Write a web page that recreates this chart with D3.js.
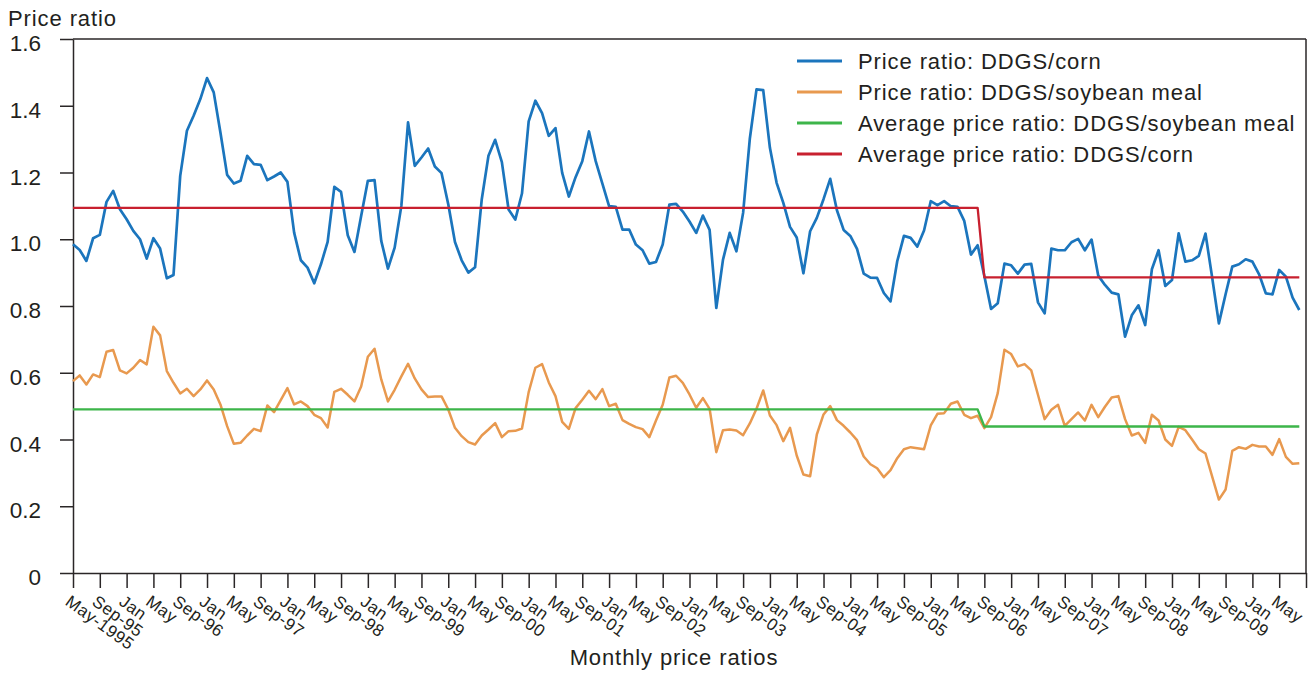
<!DOCTYPE html>
<html>
<head>
<meta charset="utf-8">
<script src="https://cdn.jsdelivr.net/npm/d3@7"></script>
<style>
  body { margin: 0; background: #fff; }
  text { font-family: "Liberation Sans", Arial, Helvetica, sans-serif; fill: #231f20; }
</style>
</head>
<body>
<div id="myChart"></div>
<script>
// monthly ratios, May-1995 .. Aug-2010 (one value per month)
const ddgsCorn = [
  0.985, 0.968, 0.935, 1.003, 1.013, 1.112, 1.145, 1.090, 1.060, 1.025,
  1.000, 0.942, 1.003, 0.972, 0.883, 0.893, 1.190, 1.325, 1.370, 1.420,
  1.483, 1.440, 1.320, 1.193, 1.167, 1.175, 1.250, 1.225, 1.223, 1.177,
  1.188, 1.200, 1.172, 1.020, 0.937, 0.915, 0.868, 0.925, 0.992, 1.157,
  1.142, 1.012, 0.962, 1.070, 1.175, 1.177, 0.995, 0.912, 0.975, 1.100,
  1.350, 1.220, 1.245, 1.272, 1.218, 1.198, 1.105, 0.992, 0.937, 0.900,
  0.916, 1.120, 1.250, 1.298, 1.231, 1.089, 1.059, 1.137, 1.353, 1.415,
  1.378, 1.310, 1.333, 1.199, 1.128, 1.186, 1.234, 1.323, 1.234, 1.167,
  1.099, 1.097, 1.029, 1.029, 0.984, 0.967, 0.927, 0.932, 0.984, 1.104,
  1.106, 1.083, 1.053, 1.019, 1.071, 1.028, 0.794, 0.939, 1.019, 0.964,
  1.079, 1.301, 1.449, 1.447, 1.274, 1.169, 1.109, 1.037, 1.005, 0.898,
  1.024, 1.064, 1.120, 1.181, 1.087, 1.028, 1.010, 0.971, 0.897, 0.885,
  0.884, 0.839, 0.814, 0.934, 1.010, 1.004, 0.978, 1.026, 1.114, 1.102,
  1.114, 1.099, 1.097, 1.055, 0.954, 0.982, 0.890, 0.791, 0.808, 0.927,
  0.922, 0.897, 0.924, 0.926, 0.811, 0.778, 0.972, 0.967, 0.967, 0.991,
  1.001, 0.967, 0.999, 0.891, 0.863, 0.840, 0.835, 0.708, 0.772, 0.802,
  0.743, 0.910, 0.967, 0.860, 0.878, 1.018, 0.933, 0.937, 0.950, 1.017,
  0.885, 0.748, 0.835, 0.918, 0.925, 0.940, 0.933, 0.895, 0.838, 0.835,
  0.908, 0.888, 0.825, 0.788
];

const ddgsSoy = [
  0.575, 0.592, 0.565, 0.595, 0.587, 0.663, 0.668, 0.607, 0.598, 0.615,
  0.638, 0.625, 0.738, 0.712, 0.605, 0.570, 0.538, 0.552, 0.530, 0.550,
  0.577, 0.550, 0.505, 0.440, 0.387, 0.390, 0.412, 0.432, 0.425, 0.502,
  0.482, 0.518, 0.554, 0.505, 0.514, 0.500, 0.474, 0.464, 0.436, 0.543,
  0.552, 0.534, 0.514, 0.559, 0.648, 0.672, 0.580, 0.514, 0.549, 0.589,
  0.627, 0.583, 0.550, 0.527, 0.529, 0.529, 0.490, 0.435, 0.410, 0.392,
  0.385, 0.412, 0.430, 0.449, 0.407, 0.425, 0.426, 0.433, 0.542, 0.615,
  0.626, 0.571, 0.530, 0.453, 0.432, 0.494, 0.519, 0.546, 0.521, 0.551,
  0.500, 0.507, 0.458, 0.447, 0.437, 0.431, 0.407, 0.457, 0.504, 0.586,
  0.591, 0.570, 0.535, 0.495, 0.524, 0.492, 0.362, 0.428, 0.430, 0.427,
  0.413, 0.448, 0.492, 0.547, 0.472, 0.443, 0.395, 0.435, 0.352, 0.295,
  0.290, 0.415, 0.475, 0.500, 0.458, 0.441, 0.421, 0.398, 0.349, 0.326,
  0.314, 0.287, 0.308, 0.344, 0.371, 0.377, 0.374, 0.371, 0.442, 0.477,
  0.479, 0.507, 0.514, 0.474, 0.464, 0.471, 0.434, 0.467, 0.539, 0.669,
  0.656, 0.619, 0.626, 0.607, 0.534, 0.461, 0.489, 0.504, 0.441, 0.461,
  0.481, 0.457, 0.504, 0.467, 0.498, 0.526, 0.530, 0.461, 0.412, 0.420,
  0.390, 0.474, 0.457, 0.400, 0.381, 0.438, 0.428, 0.400, 0.371, 0.358,
  0.289, 0.220, 0.250, 0.366, 0.377, 0.372, 0.384, 0.379, 0.379, 0.354,
  0.401, 0.348, 0.327, 0.329
];

// averages for the two periods (May-1995..Aug-2006, Sep-2006..Aug-2010)
const avgCorn = [1.094, 0.886];
const avgSoy = [0.490, 0.439];
const periodEnd = [135, 183]; // last month index in each period

const tickLabels = [
  "May-1995", "Sep-95", "Jan", "May", "Sep-96", "Jan", "May", "Sep-97",
  "Jan", "May", "Sep-98", "Jan", "May", "Sep-99", "Jan", "May", "Sep-00",
  "Jan", "May", "Sep-01", "Jan", "May", "Sep-02", "Jan", "May", "Sep-03",
  "Jan", "May", "Sep-04", "Jan", "May", "Sep-05", "Jan", "May", "Sep-06",
  "Jan", "May", "Sep-07", "Jan", "May", "Sep-08", "Jan", "May", "Sep-09",
  "Jan", "May"
];
const yTicks = [0, 0.2, 0.4, 0.6, 0.8, 1.0, 1.2, 1.4, 1.6];

const legendLabels = [
  "Price ratio: DDGS/corn",
  "Price ratio: DDGS/soybean meal",
  "Average price ratio: DDGS/soybean meal",
  "Average price ratio: DDGS/corn",
];
const colors = ["#1b75bd", "#e8994f", "#3db54a", "#c8202f"];

const margin = { top: 39, right: 6, bottom: 100, left: 73 };
const width = 1312 - margin.left - margin.right;
const height = 673 - margin.top - margin.bottom;
const axisColor = "#2a2627";

const xScale = d3.scaleLinear().domain([0, 184]).range([0, width]);
const yScale = d3.scaleLinear().domain([0, 1.6]).range([height, 0]);

const svg = d3
  .select("#myChart")
  .append("svg")
  .attr("width", 1312)
  .attr("height", 673)
  .append("g")
  .attr("transform", `translate(${margin.left}, ${margin.top})`);

// build the step series for the averages
function avgSeries(vals) {
  const out = [];
  let start = 0;
  periodEnd.forEach((end, p) => {
    for (let i = start; i <= end; i++) out.push(vals[p]);
    start = end + 1;
  });
  return out;
}

const series = [
  ddgsCorn,
  ddgsSoy,
  avgSeries(avgSoy),
  avgSeries(avgCorn),
];
const widths = [2.7, 2.5, 2.3, 2.3];

const line = d3
  .line()
  .x((d, i) => xScale(i))
  .y((d) => yScale(d));

// frame (top and right)
svg.append("line")
  .attr("x1", 0).attr("x2", width)
  .attr("y1", 0).attr("y2", 0)
  .attr("stroke", axisColor).attr("stroke-width", 1.5);
svg.append("line")
  .attr("x1", width).attr("x2", width)
  .attr("y1", 0).attr("y2", height)
  .attr("stroke", axisColor).attr("stroke-width", 1.5);

// y axis
const yAxis = svg
  .append("g")
  .call(
    d3.axisLeft(yScale)
      .tickValues(yTicks)
      .tickSize(13)
      .tickSizeOuter(0)
      .tickPadding(19)
      .tickFormat((d) => (d === 0 ? "0" : d.toFixed(1)))
  );
yAxis.selectAll(".domain, .tick line")
  .attr("stroke", axisColor).attr("stroke-width", 1.5);
yAxis.selectAll(".tick text")
  .attr("dy", "0.52em")
  .style("font-size", "22.5px");

// x axis
const xAxis = svg
  .append("g")
  .attr("transform", `translate(0, ${height})`)
  .call(
    d3.axisBottom(xScale)
      .tickValues(d3.range(0, 185, 4))
      .tickSize(15)
      .tickSizeOuter(0)
      .tickFormat((d) => tickLabels[d / 4] || "")
  );
xAxis.selectAll(".domain, .tick line")
  .attr("stroke", axisColor).attr("stroke-width", 1.5);
xAxis.selectAll(".tick text")
  .attr("x", 0).attr("y", 0).attr("dy", "0.72em")
  .attr("transform", "translate(-2, 21) rotate(36)")
  .attr("text-anchor", "start")
  .style("font-size", "17px")
  .style("letter-spacing", "0.5px");

// data lines
svg
  .selectAll(".series")
  .data(series)
  .enter()
  .append("path")
  .attr("class", "series")
  .attr("fill", "none")
  .attr("stroke", (d, i) => colors[i])
  .attr("stroke-width", (d, i) => widths[i])
  .attr("stroke-linejoin", "round")
  .attr("d", line);

// legend
const legend = svg
  .selectAll(".legend")
  .data(legendLabels)
  .enter()
  .append("g")
  .attr("class", "legend")
  .attr("transform", (d, i) => `translate(${797 - margin.left}, ${61 - margin.top + i * 31})`);
legend.append("line")
  .attr("x1", 0).attr("x2", 45)
  .attr("stroke", (d, i) => colors[i])
  .attr("stroke-width", 3);
legend.append("text")
  .attr("x", 61).attr("y", 8)
  .style("font-size", "22px")
  .style("letter-spacing", "0.9px")
  .text((d) => d);

// axis titles
svg.append("text")
  .attr("x", 8 - margin.left)
  .attr("y", 26 - margin.top)
  .style("font-size", "22px")
  .style("letter-spacing", "0.9px")
  .text("Price ratio");

svg.append("text")
  .attr("x", 674 - margin.left)
  .attr("y", 665 - margin.top)
  .attr("text-anchor", "middle")
  .style("font-size", "22px")
  .style("letter-spacing", "0.9px")
  .text("Monthly price ratios");
</script>
</body>
</html>
